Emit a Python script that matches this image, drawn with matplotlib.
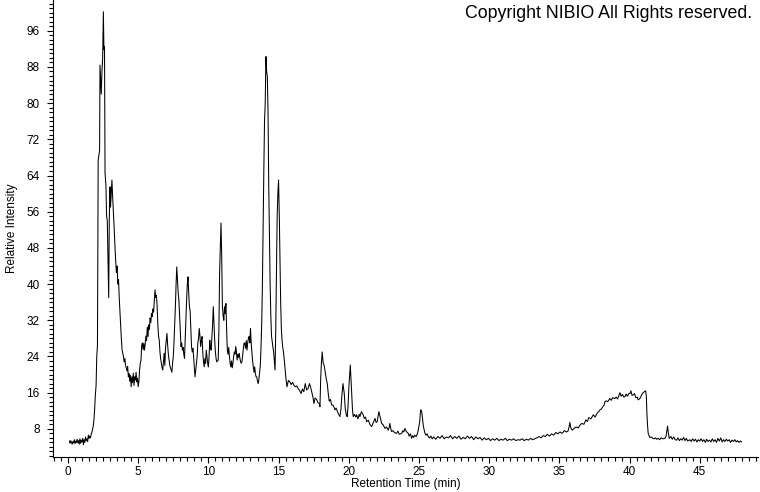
import matplotlib
matplotlib.use("Agg")
import matplotlib.pyplot as plt
from matplotlib.ticker import MultipleLocator

# Chromatogramm, Werte: (Retentionszeit in min, relative Intensitaet)
start_baseline = [
    (0.10, 5.3), (0.15, 4.8), (0.20, 5.4), (0.25, 5.0), (0.30, 4.6), (0.35, 5.2), (0.40, 4.9),
    (0.45, 5.6), (0.50, 4.7), (0.55, 5.3), (0.60, 5.0), (0.65, 5.7), (0.70, 4.9), (0.75, 5.4),
    (0.80, 4.6), (0.85, 5.8), (0.90, 4.8), (0.95, 5.5), (1.00, 5.1), (1.05, 5.9), (1.10, 4.5),
    (1.15, 5.6), (1.20, 5.0), (1.25, 6.2), (1.30, 5.4), (1.35, 5.8), (1.40, 5.2), (1.45, 6.6),
    (1.50, 5.9), (1.55, 6.4), (1.60, 6.0), (1.65, 6.8), (1.70, 7.2), (1.75, 7.9), (1.80, 8.6),
    (1.85, 10.0), (1.90, 12.5), (1.95, 15.5), (2.00, 17.5), (2.05, 24.0), (2.10, 26.5),
]

solvent_peaks = [
    (2.12, 45.0), (2.15, 67.4), (2.20, 68.5), (2.25, 69.5), (2.28, 88.4), (2.33, 85.0),
    (2.37, 82.0), (2.42, 87.0), (2.47, 90.0), (2.52, 100.2), (2.56, 91.8), (2.60, 92.5),
    (2.64, 64.5), (2.70, 62.0), (2.75, 55.0), (2.80, 54.0), (2.85, 45.0), (2.90, 37.0),
    (2.94, 54.0), (2.99, 61.5), (3.03, 57.0), (3.08, 60.0), (3.13, 63.0), (3.17, 60.0),
    (3.22, 57.0), (3.28, 53.0), (3.35, 48.0), (3.40, 45.0), (3.45, 42.5), (3.50, 44.0),
    (3.55, 40.0), (3.60, 41.0), (3.65, 37.0), (3.70, 34.0), (3.75, 31.0), (3.80, 28.0),
    (3.85, 25.5), (3.90, 24.7), (3.95, 24.0), (4.00, 22.8), (4.05, 23.5), (4.10, 22.0),
    (4.15, 21.5), (4.20, 20.8), (4.25, 21.8), (4.30, 19.5), (4.35, 20.2), (4.40, 18.5),
    (4.45, 19.8), (4.50, 17.3), (4.55, 19.5), (4.60, 18.2), (4.65, 20.3), (4.70, 17.6),
    (4.75, 19.5), (4.80, 18.8), (4.85, 20.5), (4.90, 18.4), (4.95, 19.2), (5.00, 17.3),
]

middle_region = [
    (5.05, 18.5), (5.10, 21.0), (5.15, 22.5), (5.20, 23.2), (5.25, 26.5), (5.30, 27.0),
    (5.35, 25.5), (5.40, 26.9), (5.45, 25.4), (5.50, 26.8), (5.55, 28.5), (5.60, 27.5),
    (5.65, 30.5), (5.70, 28.4), (5.75, 31.0), (5.80, 30.0), (5.85, 32.5), (5.90, 31.5),
    (5.95, 33.5), (6.00, 32.8), (6.05, 34.5), (6.10, 33.8), (6.15, 36.5), (6.20, 38.7),
    (6.25, 37.0), (6.30, 37.5), (6.35, 35.0), (6.40, 31.0), (6.45, 28.5), (6.50, 27.6),
    (6.55, 25.0), (6.60, 23.5), (6.65, 22.5), (6.70, 21.5), (6.75, 21.0), (6.80, 23.0),
    (6.85, 24.7), (6.90, 22.0), (6.95, 26.0), (7.00, 27.5), (7.05, 29.1), (7.10, 26.5),
    (7.15, 24.5), (7.20, 23.2), (7.25, 22.0), (7.30, 21.5), (7.35, 21.0), (7.40, 20.5),
    (7.45, 22.5), (7.50, 24.0), (7.55, 27.0), (7.60, 31.0), (7.65, 35.0), (7.70, 40.0),
    (7.75, 43.8), (7.80, 41.0), (7.85, 38.0), (7.90, 36.5), (7.95, 33.0), (8.00, 29.0),
    (8.05, 26.2), (8.10, 27.0), (8.15, 25.4), (8.20, 26.0), (8.25, 24.5), (8.30, 23.6),
    (8.35, 28.0), (8.40, 33.0), (8.45, 36.5), (8.50, 40.0), (8.55, 41.6), (8.60, 38.0),
    (8.65, 35.0), (8.70, 34.0), (8.75, 30.0), (8.80, 26.2), (8.85, 25.0), (8.90, 25.8),
    (8.95, 24.0), (9.00, 21.5), (9.05, 19.5), (9.10, 21.0), (9.15, 22.5), (9.20, 24.0),
    (9.25, 27.0), (9.30, 28.0), (9.35, 30.2), (9.40, 28.5), (9.45, 26.2), (9.50, 27.5),
    (9.55, 28.4), (9.60, 25.0), (9.65, 23.0), (9.70, 21.7), (9.75, 23.5), (9.80, 22.5),
    (9.85, 25.4), (9.90, 24.0), (9.95, 22.5), (10.00, 21.7), (10.05, 24.0), (10.10, 27.6),
    (10.15, 26.0), (10.20, 25.4), (10.25, 28.0), (10.30, 31.0), (10.35, 35.0), (10.40, 31.0),
    (10.45, 27.6), (10.50, 25.0), (10.55, 23.5), (10.60, 22.8), (10.65, 23.0), (10.70, 23.2),
    (10.75, 30.0), (10.80, 42.4), (10.85, 48.0), (10.90, 53.5), (10.95, 46.0), (11.00, 35.0),
    (11.05, 33.0), (11.10, 32.0), (11.15, 35.0), (11.20, 33.5), (11.25, 35.7), (11.30, 30.0),
    (11.35, 25.4), (11.40, 24.5), (11.45, 26.0), (11.50, 24.0), (11.55, 22.5), (11.60, 21.7),
    (11.65, 23.0), (11.70, 21.5), (11.75, 22.5), (11.80, 24.0), (11.85, 25.0), (11.90, 24.5),
    (11.95, 26.2), (12.00, 25.0), (12.05, 23.2), (12.10, 24.5), (12.15, 23.8), (12.20, 24.7),
    (12.25, 23.5), (12.30, 22.8), (12.35, 22.5), (12.40, 23.0), (12.45, 24.5), (12.50, 26.0),
    (12.55, 27.0), (12.60, 26.9), (12.65, 25.8), (12.70, 27.5), (12.75, 25.4), (12.80, 27.0),
    (12.85, 28.0), (12.90, 28.4), (12.95, 27.0), (13.00, 30.2), (13.05, 27.0), (13.10, 25.0),
    (13.15, 23.0), (13.20, 21.7), (13.25, 20.5), (13.30, 21.7), (13.35, 20.2), (13.40, 19.5),
    (13.45, 19.5), (13.50, 18.5), (13.55, 18.0), (13.60, 19.0), (13.65, 20.5), (13.70, 22.0),
]

main_peaks = [
    (13.75, 26.0), (13.80, 31.3), (13.85, 40.0), (13.90, 52.7), (13.95, 65.0), (14.00, 76.0),
    (14.05, 80.0), (14.10, 90.3), (14.15, 87.0), (14.20, 85.9), (14.25, 78.0), (14.30, 62.0),
    (14.35, 51.2), (14.40, 40.0), (14.45, 32.8), (14.50, 28.5), (14.55, 27.2), (14.60, 26.0),
    (14.65, 25.0), (14.70, 23.0), (14.75, 21.0), (14.80, 30.0), (14.85, 42.0), (14.90, 54.9),
    (14.95, 60.0), (15.00, 63.0), (15.05, 55.6), (15.10, 45.0), (15.15, 36.0), (15.20, 30.0),
    (15.25, 27.5), (15.30, 26.0), (15.35, 25.0), (15.40, 23.5), (15.45, 21.7), (15.50, 20.0),
    (15.55, 18.5), (15.60, 17.3),
]

late_region = [
    (15.70, 18.7), (15.80, 18.4), (15.90, 17.8), (16.00, 18.3), (16.10, 17.6), (16.20, 17.3),
    (16.30, 17.5), (16.40, 16.9), (16.50, 16.5), (16.60, 15.8), (16.70, 16.8), (16.80, 16.2),
    (16.90, 18.0), (17.00, 16.6), (17.10, 16.9), (17.20, 18.0), (17.30, 17.0), (17.36, 16.2),
    (17.45, 15.0), (17.52, 13.6), (17.60, 14.8), (17.71, 14.5), (17.80, 13.8), (17.90, 13.6),
    (17.95, 12.9), (18.00, 19.0), (18.05, 22.5), (18.11, 25.0), (18.18, 22.5), (18.25, 22.0),
    (18.30, 21.0), (18.40, 19.0), (18.47, 18.0), (18.55, 15.5), (18.61, 14.1), (18.70, 14.5),
    (18.78, 13.3), (18.90, 13.2), (19.02, 12.2), (19.10, 12.6), (19.25, 11.4), (19.37, 10.7),
    (19.45, 12.5), (19.50, 15.0), (19.59, 18.0), (19.68, 15.8), (19.75, 12.5), (19.83, 11.0),
    (19.89, 10.7), (19.95, 13.0), (20.01, 17.3), (20.11, 22.1), (20.16, 19.0), (20.21, 15.8),
    (20.27, 12.0), (20.32, 10.7), (20.40, 11.2), (20.50, 10.6), (20.56, 11.1), (20.65, 10.2),
    (20.75, 11.2), (20.80, 10.7), (20.90, 11.8), (21.03, 11.1), (21.10, 10.3), (21.20, 10.6),
    (21.27, 9.6), (21.40, 9.9), (21.50, 9.0), (21.63, 8.5), (21.75, 9.4), (21.87, 10.3),
    (21.95, 9.4), (22.03, 9.6), (22.10, 11.0), (22.15, 11.8), (22.22, 10.8), (22.34, 9.2),
    (22.45, 8.9), (22.58, 8.1), (22.70, 8.4), (22.81, 7.7), (22.88, 8.3), (22.93, 9.2),
    (23.00, 8.0), (23.05, 7.4), (23.15, 7.6), (23.25, 7.2), (23.41, 7.0), (23.50, 7.5),
    (23.60, 6.8), (23.77, 7.0), (23.85, 7.6), (23.92, 7.3), (24.00, 8.1), (24.10, 7.4),
    (24.24, 7.0), (24.30, 6.4), (24.40, 6.9), (24.48, 5.9), (24.55, 6.5), (24.62, 6.1),
    (24.72, 6.6), (24.80, 6.3), (24.90, 7.0), (24.95, 7.7), (25.05, 9.5), (25.12, 12.2),
    (25.19, 12.0), (25.26, 10.0), (25.32, 8.5), (25.43, 7.0), (25.50, 6.6), (25.58, 6.9),
    (25.66, 6.3), (25.75, 6.0), (25.85, 6.4), (25.95, 5.8),
]

flat_baseline = [
    (26.05, 6.2), (26.20, 5.7), (26.35, 6.3), (26.50, 5.9), (26.65, 6.5), (26.80, 5.8),
    (26.95, 6.2), (27.10, 6.0), (27.25, 6.5), (27.40, 5.8), (27.55, 6.3), (27.70, 5.9),
    (27.85, 6.4), (28.00, 5.7), (28.15, 6.1), (28.30, 5.8), (28.45, 6.4), (28.60, 5.9),
    (28.75, 6.3), (28.90, 5.6), (29.05, 6.2), (29.20, 5.8), (29.35, 6.1), (29.50, 5.5),
    (29.65, 6.0), (29.80, 5.6), (29.95, 5.9), (30.10, 5.4), (30.25, 5.8), (30.40, 5.5),
    (30.55, 5.9), (30.70, 5.4), (30.85, 5.7), (31.00, 5.5), (31.15, 5.9), (31.30, 5.4),
    (31.45, 5.7), (31.60, 5.5), (31.75, 5.8), (31.90, 5.4), (32.05, 5.6), (32.20, 5.5),
    (32.35, 5.8), (32.50, 5.4), (32.65, 5.7), (32.80, 5.5), (32.95, 5.9), (33.10, 5.6),
    (33.25, 5.8), (33.40, 6.0), (33.55, 6.3), (33.70, 6.0), (33.85, 6.5), (34.00, 6.3),
]

hump = [
    (34.15, 6.8), (34.30, 6.4), (34.45, 6.9), (34.60, 6.6), (34.75, 7.2), (34.90, 6.9),
    (35.05, 7.3), (35.20, 7.0), (35.35, 7.6), (35.50, 7.3), (35.62, 7.5), (35.70, 8.5),
    (35.75, 9.4), (35.82, 8.2), (35.92, 7.7), (36.05, 8.1), (36.20, 8.4), (36.35, 8.2),
    (36.47, 8.8), (36.60, 9.2), (36.75, 9.0), (36.90, 10.0), (37.00, 9.6), (37.10, 10.5),
    (37.25, 10.2), (37.42, 11.1), (37.55, 10.6), (37.70, 11.5), (37.80, 11.8), (37.90, 12.2),
    (38.00, 12.4), (38.10, 12.9), (38.20, 13.3), (38.25, 14.0), (38.35, 14.2), (38.45, 14.0),
    (38.60, 14.7), (38.70, 14.3), (38.80, 14.9), (38.96, 14.7), (39.05, 15.0), (39.15, 14.6),
    (39.25, 15.4), (39.32, 16.0), (39.40, 15.2), (39.50, 15.6), (39.60, 15.0), (39.67, 15.1),
    (39.75, 15.7), (39.85, 15.2), (39.95, 15.8), (40.03, 15.8), (40.10, 16.4), (40.18, 15.4),
    (40.27, 15.5), (40.35, 15.8), (40.45, 14.9), (40.55, 15.0), (40.62, 14.4), (40.70, 14.6),
    (40.80, 15.0), (40.86, 15.5), (40.95, 15.9), (41.05, 16.2), (41.15, 16.4), (41.20, 15.2),
    (41.24, 11.4), (41.28, 9.0), (41.33, 7.0), (41.40, 6.5),
]

end_baseline = [
    (41.45, 6.1), (41.55, 6.2), (41.65, 5.9), (41.75, 5.8), (41.85, 6.0), (41.93, 5.7),
    (42.05, 5.9), (42.15, 5.6), (42.25, 6.0), (42.40, 5.8), (42.52, 5.9), (42.60, 6.3),
    (42.66, 7.6), (42.71, 8.6), (42.77, 7.0), (42.83, 5.9), (42.95, 6.3), (43.05, 5.7),
    (43.15, 6.2), (43.25, 5.6), (43.35, 5.5), (43.45, 6.0), (43.55, 5.4), (43.65, 5.8),
    (43.75, 5.5), (43.85, 6.1), (43.95, 5.4), (44.05, 5.9), (44.15, 5.3), (44.30, 5.6),
    (44.40, 5.2), (44.50, 5.8), (44.60, 5.3), (44.70, 5.7), (44.80, 5.1), (44.90, 5.6),
    (45.00, 5.3), (45.10, 5.8), (45.20, 5.2), (45.30, 5.6), (45.40, 5.0), (45.50, 5.7),
    (45.60, 5.2), (45.70, 5.5), (45.80, 5.1), (45.90, 5.8), (46.00, 5.2), (46.10, 5.6),
    (46.20, 5.0), (46.30, 5.9), (46.40, 5.3), (46.50, 6.0), (46.60, 5.1), (46.70, 5.6),
    (46.80, 5.2), (46.90, 5.7), (47.00, 5.3), (47.10, 5.6), (47.20, 5.0), (47.30, 5.5),
    (47.40, 5.2), (47.50, 5.6), (47.60, 5.1), (47.70, 5.4), (47.80, 5.0), (47.90, 5.3),
    (47.98, 5.1),
]

x_ticks = [0, 5, 10, 15, 20, 25, 30, 35, 40, 45]
y_ticks = [8, 16, 24, 32, 40, 48, 56, 64, 72, 80, 88, 96]

# alle Abschnitte zusammensetzen
punkte = (start_baseline + solvent_peaks + middle_region + main_peaks
          + late_region + flat_baseline + hump + end_baseline)
zeit = [p[0] for p in punkte]
intensitaet = [p[1] for p in punkte]

plt.rcParams['font.family'] = ['Liberation Sans', 'DejaVu Sans']

fig = plt.figure(figsize=(7.6, 4.92), dpi=100)
ax = fig.add_axes([0.0697, 0.0711, 0.9276, 0.9289])

ax.plot(zeit, intensitaet, color='black', linewidth=0.75)

ax.set_xlim(-1.07, 49.15)
ax.set_ylim(1.77, 102.8)

ax.spines['top'].set_visible(False)
ax.spines['right'].set_visible(False)
ax.spines['left'].set_linewidth(0.8)
ax.spines['bottom'].set_linewidth(0.8)

ax.set_xticks(x_ticks)
ax.set_yticks(y_ticks)
ax.xaxis.set_minor_locator(MultipleLocator(0.5))
ax.yaxis.set_minor_locator(MultipleLocator(1))
ax.tick_params(axis='both', which='major', direction='out', length=4.5, width=0.8,
               labelsize=8.5, colors='black')
ax.tick_params(axis='both', which='minor', direction='out', length=3, width=0.8)
ax.tick_params(axis='y', which='major', pad=5)
ax.tick_params(axis='x', which='major', pad=2)

ax.set_xlabel('Retention Time (min)', fontsize=8.5, labelpad=0)
ax.set_ylabel('Relative Intensity', fontsize=8.5, labelpad=6)

fig.text(752 / 760, 1 - 14 / 492, 'Copyright NIBIO All Rights reserved.',
         ha='right', va='center', fontsize=12.8)

fig.savefig('out.png', dpi=100)
